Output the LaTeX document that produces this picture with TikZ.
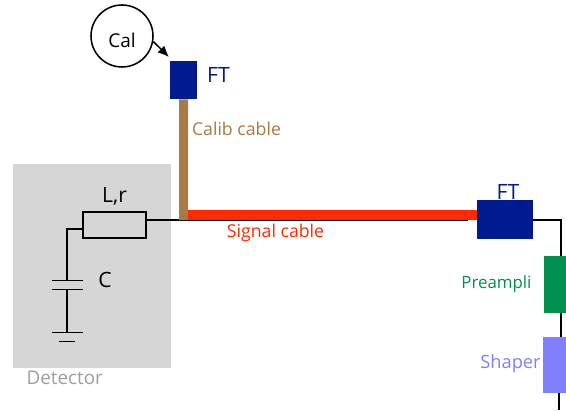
\documentclass[tikz,border=0pt]{standalone}
\usepackage{fontspec}
\usepackage{xcolor}
\setmainfont{Open Sans}
\usetikzlibrary{arrows.meta}

\definecolor{ftblue}{HTML}{001A8F}
\definecolor{calibbrown}{HTML}{A87A44}
\definecolor{signalred}{HTML}{FF2A00}
\definecolor{preampgreen}{HTML}{009050}
\definecolor{shaperblue}{HTML}{8080FF}
\definecolor{detgrey}{HTML}{D6D6D6}

\begin{document}
\begin{tikzpicture}[
        node distance = 1cm,
        inner sep = 0pt,
        wire/.style = {draw=black, line width=1.1pt},
        block/.style = {rectangle, draw=none},
        plate/.style = {rectangle, fill=black, minimum width=0.775cm, minimum height=1.1pt},
        label/.style = {font=\fontsize{12.6}{14}\selectfont},
        biglabel/.style = {font=\fontsize{15}{17}\selectfont}]

        \useasboundingbox (0,0) rectangle (14.15,-10.25);

        % NODES
        % detector
        \node[block, fill=detgrey, minimum width=3.95cm, minimum height=5.1cm] (detector) at (2.3,-6.65) {};
        \node[font=\fontsize{13.4}{15}\selectfont, text=black!38, below of = detector, node distance = 2.8cm, xshift=-0.68cm] (detector_cap) {Detector};
        \node[wire, rectangle, right of = detector, node distance = 0.5625cm, yshift=1.025cm, minimum width=1.575cm, minimum height=0.65cm] (res) {};
        \node[biglabel, above of = res, node distance = 0.72cm] (res_cap) {L,r};

        % capacitor
        \node[plate, below of = detector, node distance = 0.36cm, xshift=-0.625cm] (capTop) {};
        \node[plate, below of = capTop, node distance = 0.225cm] (capBottom) {};
        \node[plate, below of = capBottom, node distance = 1.075cm] (gndTop) {};
        \node[plate, below of = gndTop, node distance = 0.225cm, minimum width=0.4cm] (gndBottom) {};
        \node[biglabel, right of = capTop, node distance = 0.95cm] (cap_cap) {C};

        % calibration
        \node[wire, circle, minimum size=1.55cm] (cal) at (3.05,-0.9) {};
        \node[font=\fontsize{13.5}{15}\selectfont, below of = cal, node distance = 0.1cm] (cal_cap) {Cal};
        \node[block, fill=ftblue, right of = cal, node distance = 1.5375cm, yshift=-1.1cm, minimum width=0.675cm, minimum height=0.95cm] (ftCalib) {};
        \node[biglabel, text=ftblue, right of = ftCalib, node distance = 0.875cm, yshift=0.125cm] (ftCalib_cap) {FT};
        \node[label, text=calibbrown, right of = ftCalib, node distance = 1.325cm, yshift=-1.225cm] (calib_cap) {Calib cable};

        % readout
        \coordinate (junction) at (4.5875,-5.5);
        \node[block, fill=ftblue, right of = junction, node distance = 8.0375cm, yshift=0.0125cm, minimum width=1.4cm, minimum height=0.975cm] (ftSignal) {};
        \node[biglabel, text=ftblue, above of = ftSignal, node distance = 0.7cm, xshift=0.075cm] (ftSignal_cap) {FT};
        \node[label, text=signalred, right of = junction, node distance = 2.3cm, yshift=-0.325cm] (signal_cap) {Signal cable};
        \node[block, fill=preampgreen, right of = ftSignal, node distance = 1.375cm, yshift=-1.625cm, minimum width=0.8cm, minimum height=1.425cm] (preamp) {};
        \node[font=\fontsize{12}{14}\selectfont, text=preampgreen, left of = preamp, node distance = 1.59cm] (preamp_cap) {Preampli};
        \node[block, fill=shaperblue, below of = preamp, node distance = 2.0125cm, xshift=-0.0125cm, minimum width=0.825cm, minimum height=1.4cm] (shaper) {};
        \node[font=\fontsize{13}{15}\selectfont, text=shaperblue, left of = shaper, node distance = 1.225cm, yshift=0.025cm] (shaper_cap) {Shaper};
        \coordinate (shaper_out) at (13.975,-10.25);
        \coordinate (ft_corner) at (14.025,-5.5);
        \coordinate (res_corner) at (1.675,-5.725);

        % ARROWS
        \draw[wire] (res.east |- junction)--(junction)--(11.7,-5.5);
        \draw[wire] (res.west |- res_corner)--(res_corner)--(capTop.center);
        \draw[wire] (capBottom.center)--(gndTop.center);
        \draw[wire] (ftSignal.east |- ft_corner)--(ft_corner)--(ft_corner |- preamp.north);
        \draw[wire] (ft_corner |- preamp.south)--(ft_corner |- shaper.north);
        \draw[wire] (shaper_out |- shaper.south)--(shaper_out);
        \draw[line width=0.225cm, calibbrown] (ftCalib.south)--(junction);
        \draw[line width=0.25cm, signalred] ([yshift=0.125cm, xshift=0.1125cm]junction)--([yshift=0.125cm]ftSignal.west |- junction);
        \draw[wire, -{Latex[length=2.8mm,width=2.4mm]}] (cal.-10)--(4.225,-1.425);
\end{tikzpicture}
\end{document}
